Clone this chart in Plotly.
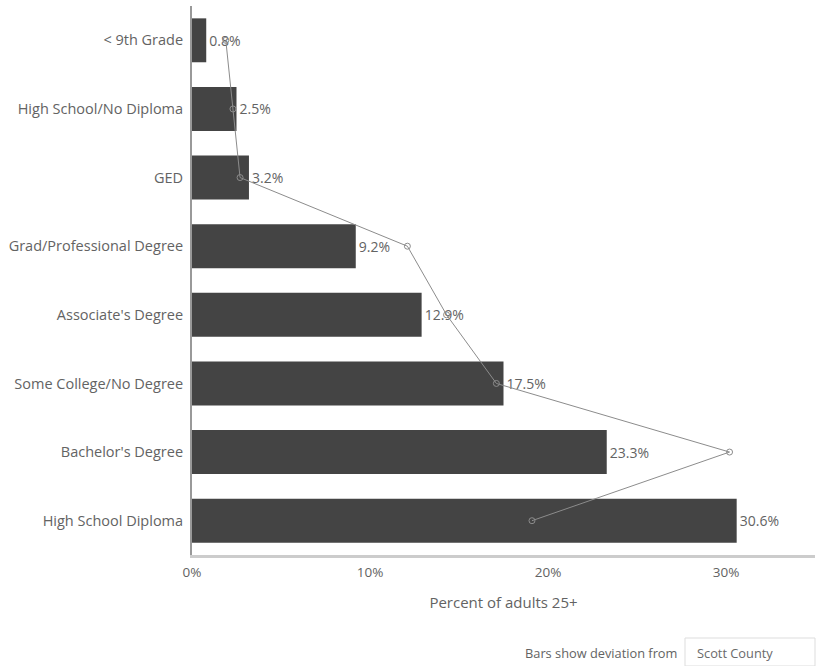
import plotly.graph_objects as go

# Educational attainment, adults 25+
categories = [
    "< 9th Grade",
    "High School/No Diploma",
    "GED",
    "Grad/Professional Degree",
    "Associate's Degree",
    "Some College/No Degree",
    "Bachelor's Degree",
    "High School Diploma",
]
area_pct = [0.8, 2.5, 3.2, 9.2, 12.9, 17.5, 23.3, 30.6]
scott_county_pct = [1.9, 2.3, 2.7, 12.1, 14.3, 17.1, 30.2, 19.1]
x_ticks = [0, 10, 20, 30]
x_tick_labels = ["0%", "10%", "20%", "30%"]

FONT = "'Open Sans', Lato, sans-serif"
TEXT = "#636363"

fig = go.Figure()

fig.add_trace(go.Bar(
    y=categories,
    x=area_pct,
    orientation="h",
    marker=dict(color="#444444", line=dict(width=0)),
    width=0.64,
    text=[f"{v:.1f}%" for v in area_pct],
    textposition="outside",
    cliponaxis=False,
    textfont=dict(family=FONT, size=14, color=TEXT),
    hoverinfo="skip",
))

fig.add_trace(go.Scatter(
    y=categories,
    x=scott_county_pct,
    mode="lines+markers",
    line=dict(color="#8c8c8c", width=1),
    marker=dict(symbol="circle-open", size=6, color="#8c8c8c", line=dict(width=1)),
    hoverinfo="skip",
))

fig.update_layout(
    width=823,
    height=666,
    margin=dict(l=192, r=8, t=6, b=111),
    paper_bgcolor="white",
    plot_bgcolor="white",
    showlegend=False,
    font=dict(family=FONT, size=12, color=TEXT),
    xaxis=dict(
        range=[0, 35],
        tickvals=x_ticks,
        ticktext=x_tick_labels,
        showgrid=False,
        zeroline=False,
        showline=True,
        linecolor="#cccccc",
        linewidth=3,
        ticks="",
        ticklabelstandoff=3,
        tickfont=dict(family=FONT, size=13.5, color=TEXT),
        title=dict(text="Percent of adults 25+", standoff=18,
                   font=dict(family=FONT, size=15, color=TEXT)),
        fixedrange=True,
    ),
    yaxis=dict(
        categoryorder="array",
        categoryarray=categories,
        autorange="reversed",
        showgrid=False,
        zeroline=False,
        showline=True,
        linecolor="#999999",
        linewidth=2,
        ticks="",
        ticklabelstandoff=4,
        tickfont=dict(family=FONT, size=14.5, color=TEXT),
        fixedrange=True,
    ),
)

# Comparison selector: caption and box
fig.add_shape(
    type="rect", xref="paper", yref="paper",
    x0=(685 - 192) / 623, x1=(815 - 192) / 623,
    y0=-(638 - 555) / 549, y1=-(666 - 555) / 549,
    line=dict(color="#dddddd", width=1), fillcolor="white",
)
fig.add_annotation(
    xref="paper", yref="paper",
    x=(695 - 192) / 623, y=-(653 - 555) / 549,
    xanchor="left", yanchor="middle",
    text="Scott County", showarrow=False,
    font=dict(family=FONT, size=12.8, color="#6a6a6a"),
)
fig.add_annotation(
    xref="paper", yref="paper",
    x=(679 - 192) / 623, y=-(653 - 555) / 549,
    xanchor="right", yanchor="middle",
    text="Bars show deviation from", showarrow=False,
    font=dict(family=FONT, size=12.8, color=TEXT),
)

fig.write_html("out.html")
